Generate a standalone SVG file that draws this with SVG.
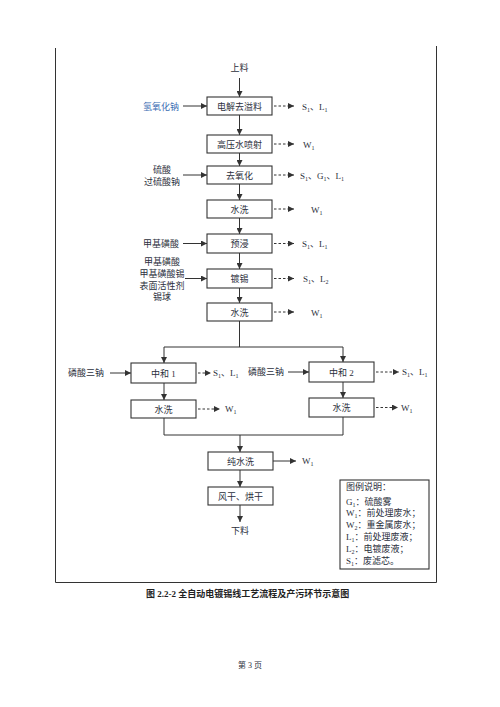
<svg xmlns="http://www.w3.org/2000/svg" width="500" height="707" viewBox="0 0 500 707">
<style>
text{font-family:"Liberation Serif","Noto Sans CJK SC",serif;font-size:9px;fill:#2b2f3c}
.c{text-anchor:middle}
.box{fill:#fff;stroke:#333;stroke-width:1.1}
.ln{fill:none;stroke:#333;stroke-width:1}
.ds{fill:none;stroke:#333;stroke-width:1;stroke-dasharray:2.5 2}
.sub{font-size:6px}
.blue{fill:#3b6db3}
.cap{font-weight:bold;font-size:9px;fill:#222}
</style>
<defs>
<marker id="ah" viewBox="0 0 10 10" refX="10" refY="5" markerWidth="6" markerHeight="6" markerUnits="userSpaceOnUse" orient="auto"><path d="M0,0L10,5L0,10z" fill="#333"/></marker>
</defs>
<rect width="500" height="707" fill="#fff"/>
<g id="frame">
<path class="ln" d="M55.5,48V582.5H436.5V46" stroke-width="1.3"/>
</g>
<g id="connectors">
<path class="ln" marker-end="url(#ah)" d="M239.5,78V97"/>
<path class="ln" marker-end="url(#ah)" d="M183,106H207"/>
<path class="ds" marker-end="url(#ah)" d="M274,106H294"/>
<path class="ln" marker-end="url(#ah)" d="M239.5,115V135"/>
<path class="ds" marker-end="url(#ah)" d="M274,144H294"/>
<path class="ln" marker-end="url(#ah)" d="M239.5,153V166"/>
<path class="ln" marker-end="url(#ah)" d="M183,175H207"/>
<path class="ds" marker-end="url(#ah)" d="M274,175H294"/>
<path class="ln" marker-end="url(#ah)" d="M239.5,184V200"/>
<path class="ds" marker-end="url(#ah)" d="M274,209H294"/>
<path class="ln" marker-end="url(#ah)" d="M239.5,218V234"/>
<path class="ln" marker-end="url(#ah)" d="M183,243.5H207"/>
<path class="ds" marker-end="url(#ah)" d="M274,243.5H294"/>
<path class="ln" marker-end="url(#ah)" d="M239.5,253V269"/>
<path class="ln" marker-end="url(#ah)" d="M185,278.5H207"/>
<path class="ds" marker-end="url(#ah)" d="M274,278.5H294"/>
<path class="ln" marker-end="url(#ah)" d="M239.5,288V303"/>
<path class="ds" marker-end="url(#ah)" d="M274,312H294"/>
<path class="ln" d="M239.5,321V347M164,347H343"/>
<path class="ln" marker-end="url(#ah)" d="M164,347V363"/>
<path class="ln" marker-end="url(#ah)" d="M343,347V362"/>
<path class="ln" marker-end="url(#ah)" d="M110,373H131"/>
<path class="ds" marker-end="url(#ah)" d="M198,373H211"/>
<path class="ln" marker-end="url(#ah)" d="M288,372H309"/>
<path class="ds" marker-end="url(#ah)" d="M376,372H399"/>
<path class="ln" marker-end="url(#ah)" d="M164,383V400"/>
<path class="ln" marker-end="url(#ah)" d="M343,382V398"/>
<path class="ds" marker-end="url(#ah)" d="M198,409H220"/>
<path class="ds" marker-end="url(#ah)" d="M376,407.5H398"/>
<path class="ln" d="M164,418V435H343V417"/>
<path class="ln" marker-end="url(#ah)" d="M240,435V452"/>
<path class="ln" marker-end="url(#ah)" d="M273,461H296"/>
<path class="ln" marker-end="url(#ah)" d="M240,470V487"/>
<path class="ln" marker-end="url(#ah)" d="M240,505V522"/>
</g>
<text class="c" x="239.5" y="71">上料</text>
<g id="n1"><rect class="box" x="207" y="97" width="65" height="18"/><text class="c" x="239.5" y="109.5">电解去溢料</text></g>
<text class="blue" x="143" y="109.5">氢氧化钠</text>
<text x="302" y="109.5">S<tspan class="sub" dy="2">1</tspan><tspan dy="-2">、L</tspan><tspan class="sub" dy="2">1</tspan></text>
<g id="n2"><rect class="box" x="207" y="135" width="65" height="18"/><text class="c" x="239.5" y="147.5">高压水喷射</text></g>
<text x="303" y="147.5">W<tspan class="sub" dy="2">1</tspan></text>
<g id="n3"><rect class="box" x="207" y="166" width="65" height="18"/><text class="c" x="239.5" y="178.5">去氧化</text></g>
<text class="c" x="162" y="173">硫酸</text>
<text class="c" x="162" y="185">过硫酸钠</text>
<text x="300" y="178.5">S<tspan class="sub" dy="2">1</tspan><tspan dy="-2">、G</tspan><tspan class="sub" dy="2">1</tspan><tspan dy="-2">、L</tspan><tspan class="sub" dy="2">1</tspan></text>
<g id="n4"><rect class="box" x="207" y="200" width="65" height="18"/><text class="c" x="239.5" y="212.5">水洗</text></g>
<text x="311" y="212.5">W<tspan class="sub" dy="2">1</tspan></text>
<g id="n5"><rect class="box" x="207" y="234" width="65" height="19"/><text class="c" x="239.5" y="247">预浸</text></g>
<text x="143" y="246.5">甲基磺酸</text>
<text x="302" y="246.5">S<tspan class="sub" dy="2">1</tspan><tspan dy="-2">、L</tspan><tspan class="sub" dy="2">1</tspan></text>
<g id="n6"><rect class="box" x="207" y="269" width="65" height="19"/><text class="c" x="239.5" y="282">镀锡</text></g>
<text class="c" x="162" y="265">甲基磺酸</text>
<text class="c" x="162" y="277">甲基磺酸锡</text>
<text class="c" x="162" y="289">表面活性剂</text>
<text class="c" x="162" y="300">锡球</text>
<text x="303" y="281.5">S<tspan class="sub" dy="2">1</tspan><tspan dy="-2">、L</tspan><tspan class="sub" dy="2">2</tspan></text>
<g id="n7"><rect class="box" x="207" y="303" width="65" height="18"/><text class="c" x="239.5" y="315.5">水洗</text></g>
<text x="311" y="315.5">W<tspan class="sub" dy="2">1</tspan></text>
<g id="n8"><rect class="box" x="131" y="363" width="65" height="20"/><text class="c" x="163.5" y="376.5">中和 1</text></g>
<text x="68" y="376">磷酸三钠</text>
<text x="213" y="376">S<tspan class="sub" dy="2">1</tspan><tspan dy="-2">、L</tspan><tspan class="sub" dy="2">1</tspan></text>
<g id="n9"><rect class="box" x="309" y="362" width="65" height="20"/><text class="c" x="341.5" y="375.5">中和 2</text></g>
<text x="248" y="375">磷酸三钠</text>
<text x="402" y="375">S<tspan class="sub" dy="2">1</tspan><tspan dy="-2">、L</tspan><tspan class="sub" dy="2">1</tspan></text>
<g id="n10"><rect class="box" x="131" y="400" width="65" height="18"/><text class="c" x="163.5" y="412.5">水洗</text></g>
<text x="225" y="412">W<tspan class="sub" dy="2">1</tspan></text>
<g id="n11"><rect class="box" x="309" y="398" width="65" height="19"/><text class="c" x="341.5" y="411">水洗</text></g>
<text x="401" y="411">W<tspan class="sub" dy="2">1</tspan></text>
<g id="n12"><rect class="box" x="208" y="452" width="65" height="18"/><text class="c" x="240.5" y="464.5">纯水洗</text></g>
<text x="302" y="464">W<tspan class="sub" dy="2">1</tspan></text>
<g id="n13"><rect class="box" x="208" y="487" width="65" height="18"/><text class="c" x="240.5" y="499.5">风干、烘干</text></g>
<text class="c" x="240" y="534">下料</text>
<g id="legend">
<rect class="box" x="340" y="480" width="89" height="89"/>
<text x="346" y="490">图例说明：</text>
<text x="346" y="504.5">G<tspan class="sub" dy="2">1</tspan><tspan dy="-2">：硫酸雾</tspan></text>
<text x="346" y="516">W<tspan class="sub" dy="2">1</tspan><tspan dy="-2">：前处理废水；</tspan></text>
<text x="346" y="527.5">W<tspan class="sub" dy="2">2</tspan><tspan dy="-2">：重金属废水；</tspan></text>
<text x="346" y="540">L<tspan class="sub" dy="2">1</tspan><tspan dy="-2">：前处理废液；</tspan></text>
<text x="346" y="552">L<tspan class="sub" dy="2">2</tspan><tspan dy="-2">：电镀废液；</tspan></text>
<text x="346" y="563.5">S<tspan class="sub" dy="2">1</tspan><tspan dy="-2">：废滤芯。</tspan></text>
</g>
<text class="cap" x="146" y="597">图 2.2-2  全自动电镀锡线工艺流程及产污环节示意图</text>
<text class="c" x="250" y="668" style="font-size:8px">第 3 页</text>
</svg>
